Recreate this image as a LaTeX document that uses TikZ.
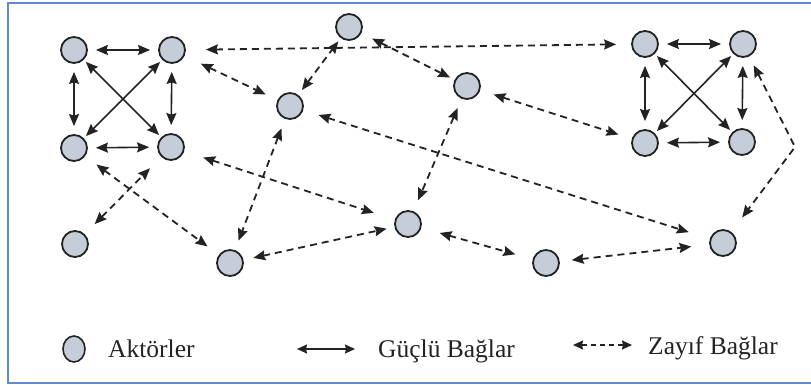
\documentclass[tikz,border=0pt]{standalone}
\usepackage{fontspec}
\setmainfont{Liberation Serif}
\usetikzlibrary{arrows.meta,shapes.geometric}
\definecolor{frameblue}{RGB}{91,141,214}
\definecolor{actorfill}{RGB}{197,206,216}
\definecolor{ink}{RGB}{35,35,35}
\tikzset{
  actor/.style={circle, minimum size=26pt, inner sep=0pt, fill=actorfill, draw=ink, line width=1.8pt},
  tipL/.style={arrows={Stealth[length=12pt,width=10pt,inset=1.5pt]-Stealth[length=12pt,width=10pt,inset=1.5pt]}},
  tipS/.style={arrows={Stealth[length=10pt,width=9pt,inset=1pt]-Stealth[length=10pt,width=9pt,inset=1pt]}},
  strong/.style={tipL, line width=1.6pt, draw=ink, shorten >=8pt, shorten <=8pt},
  diag/.style={tipL, line width=1.6pt, draw=ink, shorten >=3pt, shorten <=3pt},
  weak/.style={tipL, line width=1.8pt, draw=ink, dash pattern=on 7pt off 5pt, shorten >=13pt, shorten <=13pt},
  legtext/.style={anchor=base west, inner sep=0pt, font=\fontsize{25.5}{30}\selectfont, text=ink}
}
\begin{document}
\begin{tikzpicture}[x=1pt,y=-1pt]
\useasboundingbox (0,0) rectangle (811,385);
\draw[frameblue, line width=2pt] (8,3) rectangle (815,383);

% left cluster
\node[actor] (A1) at (74,50) {};
\node[actor] (A2) at (172,50) {};
\node[actor] (A3) at (74,148) {};
\node[actor] (A4) at (171,147) {};
\node[actor] (A5) at (75,244) {};
% middle
\node[actor] (B) at (349,27) {};
\node[actor] (C) at (290,106) {};
\node[actor] (D) at (467,86) {};
\node[actor] (E) at (230,263) {};
\node[actor] (F) at (408,224) {};
\node[actor] (G) at (546,263) {};
\node[actor] (H) at (723,243) {};
% right cluster
\node[actor] (R1) at (645,44) {};
\node[actor] (R2) at (743,44) {};
\node[actor] (R3) at (645,143) {};
\node[actor] (R4) at (742,142) {};
\coordinate (K) at (795,147);

% strong ties
\draw[strong] (A1) -- (A2);
\draw[strong] (A1) -- (A3);
\draw[strong] (A2) -- (A4);
\draw[strong] (A3) -- (A4);
\draw[diag] (A1) -- (A4);
\draw[diag] (A2) -- (A3);
\draw[strong] (R1) -- (R2);
\draw[strong] (R1) -- (R3);
\draw[strong] (R2) -- (R4);
\draw[strong] (R3) -- (R4);
\draw[diag] (R1) -- (R4);
\draw[diag] (R2) -- (R3);

% weak ties
\draw[weak, shorten <=20pt, shorten >=15pt] (A2) -- (R1);
\draw[weak, shorten <=18pt] (A2) -- (C);
\draw[weak, shorten <=20pt, shorten >=22pt] (A4) -- (F);
\draw[weak, shorten <=14pt, shorten >=14pt] (A3) -- (E);
\draw[weak, shorten <=14pt, shorten >=16pt] (A5) -- (A4);
\draw[weak, shorten <=10pt, shorten >=10pt] (C) -- (E);
\draw[weak, shorten <=6pt, shorten >=4pt] (C) -- (B);
\draw[weak, shorten <=12pt, shorten >=5pt] (B) -- (D);
\draw[weak, shorten <=16pt, shorten >=22pt] (C) -- (H);
\draw[weak, shorten <=14pt, shorten >=14pt] (D) -- (R3);
\draw[weak, shorten <=10pt, shorten >=12pt] (D) -- (F);
\draw[weak, shorten <=10pt, shorten >=8pt] (E) -- (F);
\draw[weak, shorten <=19pt, shorten >=18pt] (F) -- (G);
\draw[weak, shorten <=12pt, shorten >=18pt] (G) -- (H);
\draw[weak, shorten <=10pt, shorten >=18pt] (R2) -- (K) -- (H);

% legend
\node[ellipse, minimum width=22pt, minimum height=26pt, inner sep=0pt, fill=actorfill, draw=ink, line width=1.6pt] (LA) at (74,349) {};
\node[legtext] (LT1) at (108,357) {Aktörler};
\coordinate (S1) at (297,349);
\coordinate (S2) at (355,349);
\draw[tipS, line width=1.6pt, draw=ink] (S1) -- (S2);
\node[legtext] (LT2) at (378,357) {Güçlü Bağlar};
\coordinate (W1) at (573,345);
\coordinate (W2) at (632,345);
\draw[tipS, line width=1.6pt, draw=ink, dash pattern=on 5pt off 4pt] (W1) -- (W2);
\node[legtext] (LT3) at (648,354) {Zayıf Bağlar};
\end{tikzpicture}
\end{document}
